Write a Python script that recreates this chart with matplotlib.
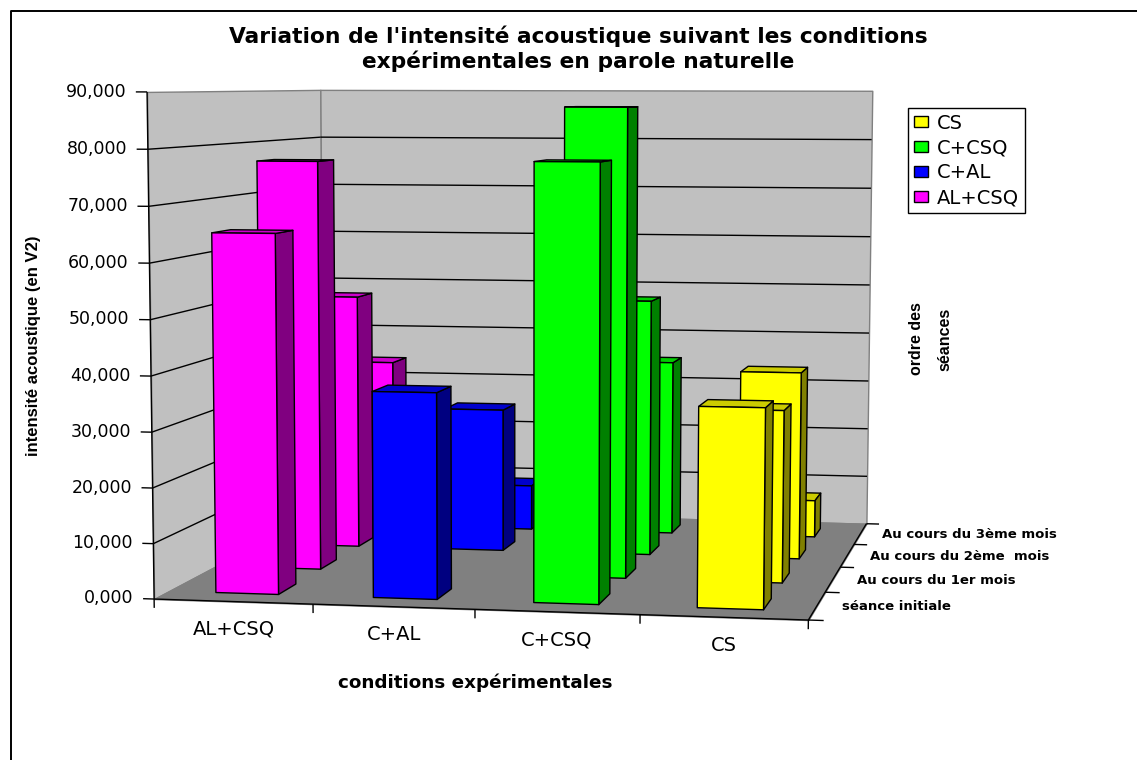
import numpy as np
import matplotlib
matplotlib.use("Agg")
from matplotlib import pyplot as plt
from matplotlib.lines import Line2D
from matplotlib.patches import Rectangle
from mpl_toolkits.mplot3d.art3d import Poly3DCollection, Line3DCollection

W, H = 1137, 760

conditions = ["AL+CSQ", "C+AL", "C+CSQ", "CS"]
seances = ["séance initiale", "Au cours du 1er mois", "Au cours du 2ème  mois", "Au cours du 3ème mois"]
al_csq = [65.0, 77.0, 49.6, 34.0]
c_al = [37.1, 0.0, 27.8, 9.0]
c_csq = [78.0, 87.2, 49.6, 35.0]
cs = [35.6, 32.0, 36.2, 7.4]
z_ticks = [0, 10, 20, 30, 40, 50, 60, 70, 80, 90]

# front, side and top colours of the bars
front_colors = ["#ff00ff", "#0000ff", "#00ff00", "#ffff00"]
side_colors = ["#800080", "#000080", "#008000", "#808000"]
top_colors = ["#cc00cc", "#0000cc", "#00cc00", "#cccc00"]

NONE = (0, 0, 0, 0)


def camera_matrix():
    # perspective of the old spreadsheet chart, from the corners of the box (in pixels)
    world = [(0, 0, 0), (4, 0, 0), (4, 4, 0), (0, 4, 0), (0, 0, 90), (0, 4, 90), (4, 4, 90)]
    image = [(155.5, 598.5), (808, 621), (867, 522.7), (322, 510), (146, 91.5), (321.5, 90), (872, 91)]
    rows = []
    for (x, y, z), (u, v) in zip(world, image):
        rows.append([x, y, z, 1, 0, 0, 0, 0, -u * x, -u * y, -u * z, -u])
        rows.append([0, 0, 0, 0, x, y, z, 1, -v * x, -v * y, -v * z, -v])
    P = np.linalg.svd(np.array(rows, dtype=float))[2][-1].reshape(3, 4)
    P = P / (P[2] @ np.array([2, 2, 45, 1]))
    # third row only serves the depth sort, far things get the bigger value
    return np.array([P[0], P[1], [0, 0, 0, -1], P[2]])


fig = plt.figure(figsize=(W / 100, H / 100), dpi=100, facecolor="white")
# a 3d axes is always square, so make it a square wider than the figure
ax = fig.add_axes([0, (H - W) / 2 / H, 1, W / H], projection="3d", computed_zorder=False)
M = camera_matrix()
ax.get_proj = lambda: M
ax.set_axis_off()
ax.patch.set_alpha(0)
ax.viewLim.intervalx = (0, W)
ax.viewLim.intervaly = (H + (W - H) / 2, -(W - H) / 2)


def label(x, y, z, text, **kwargs):
    p = M @ np.array([x, y, z, 1.0])
    ax.text2D(p[0] / p[3], p[1] / p[3], text, transform=ax.transData, **kwargs)


def lines(segments, color="black", lw=1.0, zorder=2):
    ax.add_collection3d(Line3DCollection(segments, colors=color, linewidths=lw, zorder=zorder), autolim=False)


# walls and floor
walls = [
    ([(0, 0, 0), (0, 4, 0), (0, 4, 90), (0, 0, 90)], "#c0c0c0"),
    ([(0, 4, 0), (4, 4, 0), (4, 4, 90), (0, 4, 90)], "#c0c0c0"),
    ([(0, 0, 0), (4, 0, 0), (4, 4, 0), (0, 4, 0)], "#808080"),
]
for verts, col in walls:
    ax.add_collection3d(Poly3DCollection([verts], facecolors=col, edgecolors="#808080", linewidths=1.0, zorder=1),
                        autolim=False)

grid = []
for z in z_ticks[1:-1]:
    grid.append([(0, 0, z), (0, 4, z)])
    grid.append([(0, 4, z), (4, 4, z)])
lines(grid)

# axis lines and ticks
axis_lines = [[(0, 0, 0), (0, 0, 90)], [(0, 0, 0), (4, 0, 0)], [(4, 0, 0), (4, 4, 0)]]
for z in z_ticks:
    axis_lines.append([(-0.07, 0, z), (0, 0, z)])
    label(-0.13, 0, z, "%d,000" % z, ha="right", va="center", fontsize=12.5, color="black")
for i in range(5):
    axis_lines.append([(i, 0, 0), (i, 0, -1.6)])
for j in range(5):
    axis_lines.append([(4, j, 0), (4.09, j, 0)])
lines(axis_lines)

for i, name in enumerate(conditions):
    label(i + 0.5, 0, -5.0, name, ha="center", va="center", fontsize=14)
for j, name in enumerate(seances):
    label(4.15, j + 0.5, 0, name, ha="left", va="center", fontsize=9.5, fontweight="bold")

# bars, back row first so the front ones cover them
width = 0.4
values = [al_csq, c_al, c_csq, cs]
order = 10
for j in range(3, -1, -1):
    for i in range(4):
        h = values[i][j]
        if h <= 0:
            continue
        colors = [NONE, top_colors[i], front_colors[i], NONE, NONE, side_colors[i]]
        edges = [NONE, "black", "black", NONE, NONE, "black"]
        ax.bar3d(i + 0.3, j + 0.3, 0, width, width, h, color=colors, shade=False,
                 edgecolors=edges, linewidths=1.0, zorder=order)
        order += 1
ax.set_xlim(0, 4)
ax.set_ylim(0, 4)
ax.set_zlim(0, 90)


def fx(x):
    return x / W


def fy(y):
    return 1 - y / H


# frame of the chart, only the top and left sides are in the picture
fig.add_artist(Line2D([fx(10.5), fx(10.5), 1], [0, fy(11), fy(11)], color="black", lw=1.4))

fig.text(fx(578), fy(36), "Variation de l'intensité acoustique suivant les conditions",
         ha="center", va="center", fontsize=15.7, fontweight="bold")
fig.text(fx(578), fy(61), "expérimentales en parole naturelle",
         ha="center", va="center", fontsize=15.7, fontweight="bold")
fig.text(fx(475), fy(683), "conditions expérimentales", ha="center", va="center", fontsize=13.2, fontweight="bold")
fig.text(fx(34), fy(346), "intensité acoustique (en V2)", rotation=90, ha="center", va="center",
         fontsize=12, fontweight="bold", family="Liberation Sans")
fig.text(fx(931), fy(339), "ordre des\nséances", rotation=90, ha="center", va="center",
         fontsize=11.5, fontweight="bold", family="Liberation Sans", linespacing=2.1, multialignment="center")

# legend
leg_names = ["CS", "C+CSQ", "C+AL", "AL+CSQ"]
leg_colors = ["#ffff00", "#00ff00", "#0000ff", "#ff00ff"]
handles = [Rectangle((0, 0), 1, 1, fc=c, ec="black", lw=1.0) for c in leg_colors]
fig.legend(handles, leg_names, loc="upper left", bbox_to_anchor=(fx(908), fy(108)), borderaxespad=0,
           frameon=True, fancybox=False, edgecolor="black", framealpha=1, fontsize=14,
           handlelength=0.75, handleheight=0.5, handletextpad=0.42, labelspacing=0.3, borderpad=0.3)

fig.savefig("out.png", dpi=100)
